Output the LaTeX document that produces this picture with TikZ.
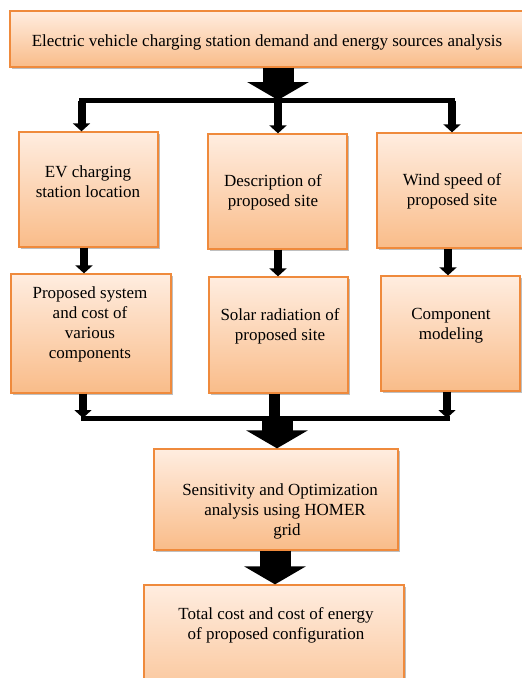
\documentclass[tikz,border=0pt]{standalone}
\usepackage{fontspec}
\setmainfont{Liberation Serif}
\usetikzlibrary{arrows.meta,shadows,calc}
\definecolor{boxtop}{HTML}{FFEDE0}
\definecolor{boxbot}{HTML}{F9BC89}
\definecolor{boxline}{HTML}{EF8A3C}
\begin{document}
\begin{tikzpicture}[x=1pt,y=-1pt,
  box/.style={draw=boxline, line width=1.3pt, top color=boxtop, bottom color=boxbot,
    drop shadow={shadow xshift=1.5pt,shadow yshift=-1.5pt,fill=black!50,opacity=0.5},
    inner sep=0pt},
  lbl/.style={font=\fontsize{17}{20}\selectfont, align=center, inner sep=0pt},
  big/.style={line width=31pt, -{Triangle[width=61pt,length=18pt]}},
  small/.style={line width=8pt, -{Triangle[width=17pt,length=8pt]}},
  bar/.style={line width=5pt, line cap=rect}]
\useasboundingbox (0,0) rectangle (522,678);
\fill[white] (0,0) rectangle (522,678);
% boxes
\node[box, minimum width=530pt, minimum height=56pt] (top) at (275,39) {};
\node[box, minimum width=139pt, minimum height=115pt] (A) at (88.5,189.5) {};
\node[box, minimum width=139pt, minimum height=115pt] (B) at (277.5,191.5) {};
\node[box, minimum width=150pt, minimum height=115pt] (C) at (452,190.5) {};
\node[box, minimum width=160pt, minimum height=119pt] (D) at (91,333.5) {};
\node[box, minimum width=139pt, minimum height=116pt] (E) at (278.5,335) {};
\node[box, minimum width=139pt, minimum height=115pt] (F) at (450.5,333.5) {};
\node[box, minimum width=244pt, minimum height=101pt] (G) at (276,499.5) {};
\node[box, minimum width=260pt, minimum height=135pt] (H) at (274,652.5) {};
% labels
\node[lbl] (ttop) at (267,42) {Electric vehicle charging station demand and energy sources analysis};
\node[lbl] (tA) at (88,181.5) {EV charging\\station location};
\node[lbl] (tB) at (273,192.5) {Description of\\proposed site};
\node[lbl] (tC) at (452,191.5) {Wind speed of\\proposed site};
\node[lbl] (tD) at (90,324.5) {Proposed system\\and cost of\\various\\components};
\node[lbl] (tE) at (280,326.5) {Solar radiation of\\proposed site};
\node[lbl] (tF) at (451,325.5) {Component\\modeling};
\node[lbl] (tG) at (280,511) {Sensitivity and Optimization\\\hspace*{10pt}analysis using HOMER\\\hspace*{14pt}grid};
\node[lbl] (tH) at (276,625) {Total cost and cost of energy\\of proposed configuration};
% top connectors
\coordinate (t1) at (278,100);
\coordinate (bl) at (81.5,100.5);
\coordinate (br) at (452,100.5);
\draw[big] (t1 |- top.south) -- (t1);
\draw[bar] (bl) -- (br);
\draw[small] (bl) -- (bl |- A.north);
\draw[small] (278,100.5) coordinate (bm) -- (bm |- B.north);
\draw[small] (br) -- (br |- C.north);
% row 1 to row 2
\coordinate (m1) at (84,0);
\coordinate (m2) at (278,0);
\coordinate (m3) at (448,0);
\draw[small] (m1 |- A.south) -- (m1 |- D.north);
\draw[small] (m2 |- B.south) -- (m2 |- E.north);
\draw[small] (m3 |- C.south) -- (m3 |- F.north);
% row 2 to merge line
\coordinate (ll) at (83,418);
\coordinate (lr) at (447,418);
\coordinate (lm) at (274.5,418);
\draw[bar] (ll) -- (lr);
\draw[small] (ll |- D.south) -- (ll);
\draw[small] (lr |- F.south) -- (lr);
\draw[line width=11pt] (lm |- E.south) -- (lm);
\coordinate (j2) at (277,416);
\draw[big] (j2) -- (j2 |- G.north);
\coordinate (j3) at (275,0);
\draw[big] (j3 |- G.south) -- (j3 |- H.north);
\end{tikzpicture}
\end{document}
